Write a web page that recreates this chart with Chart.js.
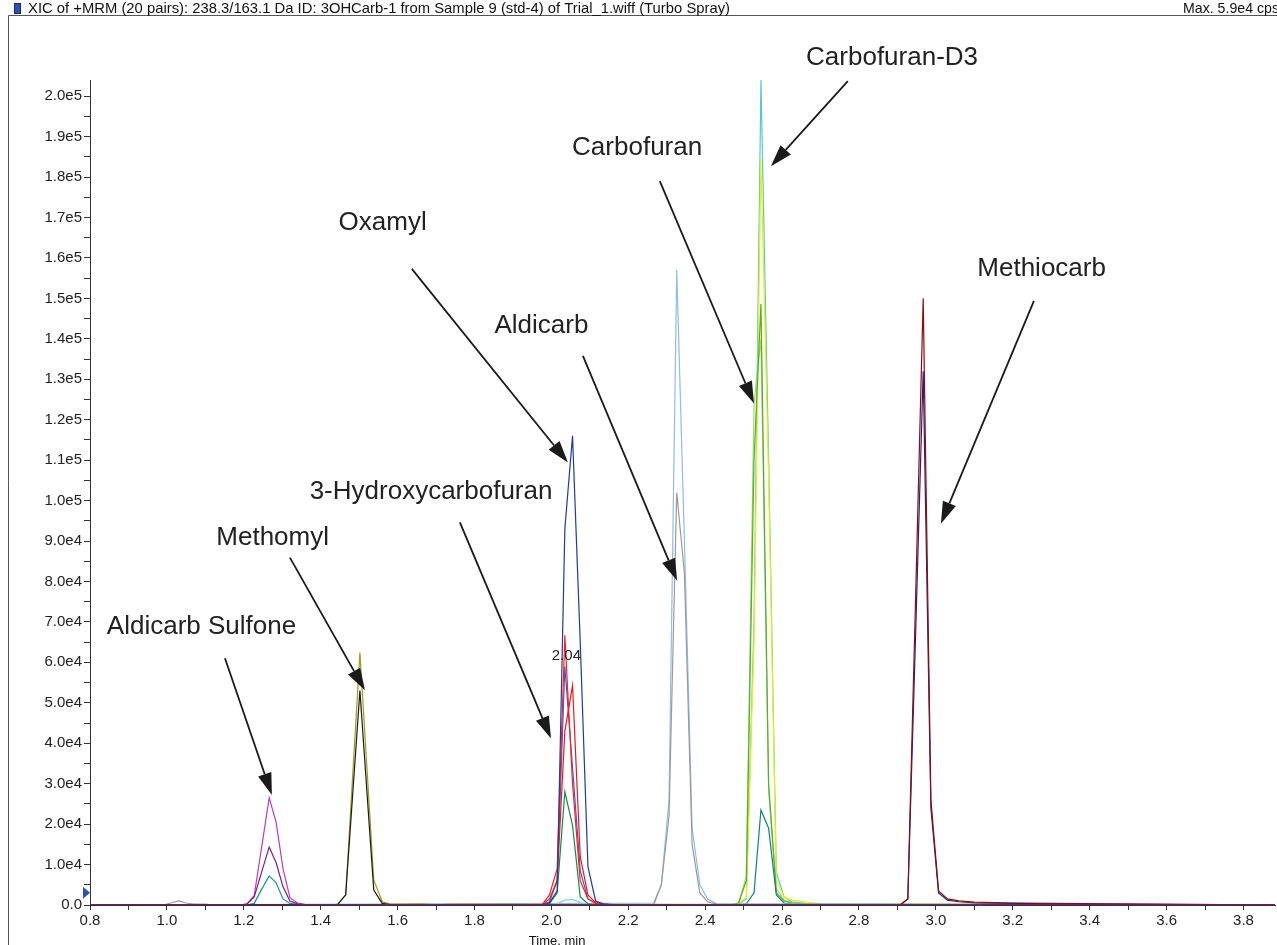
<!DOCTYPE html>
<html>
<head>
<meta charset="utf-8">
<title>XIC of +MRM</title>
<script src="https://cdn.jsdelivr.net/npm/chart.js@4.4.1/dist/chart.umd.min.js"></script>
<style>
  html, body { margin: 0; padding: 0; background: #fff; }
  #wrap { position: relative; width: 1277px; height: 945px; overflow: hidden; }
</style>
</head>
<body>
<div id="wrap"><canvas id="xic" width="1277" height="945"></canvas></div>
<script>
// --- header texts ---
const headerText = 'XIC of +MRM (20 pairs): 238.3/163.1 Da ID: 3OHCarb-1 from Sample 9 (std-4) of Trial_1.wiff (Turbo Spray)';
const maxText = 'Max. 5.9e4 cps';
const xTitle = 'Time, min';

// --- axes ---
const xMin = 0.8, xMax = 3.882;
const yMin = 0, yMax = 2.04e5;
const xTickLabels = ['0.8','1.0','1.2','1.4','1.6','1.8','2.0','2.2','2.4','2.6','2.8','3.0','3.2','3.4','3.6','3.8'];
const yTickLabels = ['0.0','1.0e4','2.0e4','3.0e4','4.0e4','5.0e4','6.0e4','7.0e4','8.0e4','9.0e4',
  '1.0e5','1.1e5','1.2e5','1.3e5','1.4e5','1.5e5','1.6e5','1.7e5','1.8e5','1.9e5','2.0e5'];
const xMajor = 0.2, yMajor = 1e4;   // labelled ticks; one minor tick between each pair

// --- traces (time in min, intensity in cps) ---
// Aldicarb Sulfone ~1.27
const tSulfone = [0.8, 1.19, 1.208, 1.227, 1.246, 1.266, 1.284, 1.302, 1.320, 1.340, 1.36, 3.882];
const sulfMagenta = [0, 0, 300, 2300, 14000, 26500, 20500, 9000, 1800, 500, 100, 0];
const sulfPurple  = [0, 0, 200, 2000, 8000, 14300, 10500, 4500, 1000, 300, 100, 0];
const sulfTeal    = [0, 0, 0, 400, 3800, 7200, 5500, 1500, 400, 100, 0, 0];

// Methomyl ~1.50
const tMethomyl = [0.8, 1.43, 1.444, 1.465, 1.502, 1.538, 1.560, 1.58, 1.62, 1.66, 1.70, 1.74, 3.882];
const methOlive = [0, 0, 200, 2500, 62400, 6200, 800, 300, 200, 300, 100, 250, 0];
const methBlack = [0, 0, 100, 2500, 53000, 3700, 400, 100, 50, 50, 0, 0, 0];

// Oxamyl / 3-Hydroxycarbofuran ~2.04
const tOxamyl = [0.8, 1.975, 1.995, 2.015, 2.035, 2.055, 2.075, 2.095, 2.115, 2.135, 2.16, 3.882];
const oxBlue    = [0, 0, 500, 3500, 93000, 116000, 65000, 9500, 1000, 300, 100, 0];
const oxMidBlue = [0, 0, 800, 6000, 59000, 34000, 8500, 1500, 500, 200, 0, 0];
const oxRed1    = [0, 0, 2500, 9000, 66700, 30000, 6000, 1500, 400, 100, 0, 0];
const oxRed2    = [0, 0, 1500, 6000, 43000, 54300, 12000, 2500, 600, 200, 0, 0];
const oxGreen   = [0, 0, 300, 3000, 28000, 19700, 2000, 300, 100, 0, 0, 0];
const oxCyan    = [0, 0, 0, 300, 1200, 1400, 600, 100, 0, 0, 0, 0];

// Aldicarb ~2.33 (gray trace also has the small bump at 1.03)
const tAldGray = [0.8, 0.99, 1.01, 1.03, 1.05, 1.07, 1.10, 1.12, 2.266, 2.286, 2.306, 2.326, 2.346, 2.366, 2.386, 2.406, 2.43, 3.882];
const aldGray  = [0, 0, 500, 1000, 500, 200, 200, 0, 0, 5000, 22000, 102000, 82000, 15000, 3000, 800, 200, 0];
const tAldBlue = [0.8, 2.266, 2.286, 2.306, 2.326, 2.346, 2.366, 2.386, 2.406, 2.43, 3.882];
const aldLightBlue = [0, 500, 5000, 26000, 157000, 90000, 19000, 5000, 1500, 300, 0];

// Carbofuran / Carbofuran-D3 ~2.545
const tCarbo = [0.8, 2.467, 2.487, 2.507, 2.527, 2.545, 2.565, 2.585, 2.605, 2.625, 2.66, 2.70, 3.882];
const cfCyan      = [0, 0, 200, 1500, 70000, 204000, 110000, 8000, 2000, 800, 400, 200, 0];
const cfYellow    = [0, 0, 300, 2000, 65000, 184500, 105000, 6000, 2000, 1200, 800, 300, 0];
const cfGreen     = [0, 0, 500, 6000, 110000, 148600, 30000, 3000, 1000, 500, 300, 200, 0];
const cfLightGreen= [0, 0, 600, 7000, 124000, 140000, 28000, 4000, 1200, 600, 300, 100, 0];
const cfTeal      = [0, 0, 0, 300, 3000, 23500, 19000, 2500, 500, 200, 0, 0, 0];

// Methiocarb ~2.97
const tMethio = [0.8, 2.907, 2.927, 2.947, 2.967, 2.987, 3.007, 3.03, 3.06, 3.10, 3.2, 3.3, 3.45, 3.6, 3.882];
const meRed  = [0, 0, 1500, 75000, 150000, 26000, 3500, 1500, 1000, 700, 500, 400, 300, 200, 0];
const meNavy = [0, 0, 1500, 66000, 132000, 24000, 3000, 1200, 800, 500, 400, 300, 200, 100, 0];

// --- annotations (data coordinates) ---
const annTexts = ['Carbofuran-D3', 'Carbofuran', 'Oxamyl', 'Methiocarb', 'Aldicarb', '3-Hydroxycarbofuran', 'Methomyl', 'Aldicarb Sulfone'];
const annX = [2.886, 2.223, 1.561, 3.275, 1.974, 1.687, 1.275, 1.090];
const annY = [209400, 187200, 168600, 157300, 143200, 102200, 90900, 68900];
const arrowFromX = [2.771, 2.282, 1.637, 3.255, 2.082, 1.762, 1.320, 1.151];
const arrowFromY = [203700, 179000, 157300, 149400, 135800, 94600, 85900, 61000];
const arrowToX   = [2.571, 2.527, 2.043, 3.013, 2.327, 1.999, 1.515, 1.273];
const arrowToY   = [182700, 124000, 109400, 94300, 80200, 41200, 53100, 27200];
const peakLabel = '2.04', peakLabelX = 2.039, peakLabelY = 61500;
const markerY = 3000;

const traces = [
  { t: tSulfone, v: sulfPurple, c: '#7a1f7e' },
  { t: tMethio, v: meRed, c: '#8c0c10' },
  { t: tMethio, v: meNavy, c: '#24247e' },
  { t: tOxamyl, v: oxBlue, c: '#1f3c9e' },
  { t: tOxamyl, v: oxRed1, c: '#ff1f1f' },
  { t: tOxamyl, v: oxRed2, c: '#e81a1a' },
  { t: tOxamyl, v: oxMidBlue, c: '#3a5ccc' },
  { t: tOxamyl, v: oxGreen, c: '#148a48' },
  { t: tOxamyl, v: oxCyan, c: '#78d4e4' },
  { t: tSulfone, v: sulfMagenta, c: '#c03cb4' },
  { t: tSulfone, v: sulfTeal, c: '#129498' },
  { t: tMethomyl, v: methBlack, c: '#1c1c1c' },
  { t: tMethomyl, v: methOlive, c: '#9c9c1c' },
  { t: tAldGray, v: aldGray, c: '#9a9a9a' },
  { t: tAldBlue, v: aldLightBlue, c: '#8ebde9' },
  { t: tCarbo, v: cfTeal, c: '#11807e' },
  { t: tCarbo, v: cfGreen, c: '#4fae2c' },
  { t: tCarbo, v: cfLightGreen, c: '#a6d46e' },
  { t: tCarbo, v: cfYellow, c: '#f2f000' },
  { t: tCarbo, v: cfCyan, c: '#52c8da' }
];

const datasets = traces.map((tr, i) => ({
  label: 'trace ' + (i + 1),
  data: tr.t.map((t, j) => ({ x: t, y: tr.v[j] })),
  borderColor: tr.c,
  borderWidth: 1.2,
  pointRadius: 0,
  fill: false,
  tension: 0
}));

// tick positions: every label position plus a minor tick halfway
function buildTicks(labels, start, major, limit) {
  const out = [];
  labels.forEach((lab, i) => {
    const v = start + i * major;
    out.push({ value: v, label: lab });
    if (v + major / 2 <= limit) out.push({ value: v + major / 2, label: '' });
  });
  return out;
}

function drawArrow(ctx, x1, y1, x2, y2) {
  const a = Math.atan2(y2 - y1, x2 - x1), L = 22, W = 7;
  const bx = x2 - L * Math.cos(a), by = y2 - L * Math.sin(a);
  ctx.beginPath(); ctx.moveTo(x1, y1); ctx.lineTo(bx, by); ctx.stroke();
  ctx.beginPath();
  ctx.moveTo(x2, y2);
  ctx.lineTo(bx + W * Math.sin(a), by - W * Math.cos(a));
  ctx.lineTo(bx - W * Math.sin(a), by + W * Math.cos(a));
  ctx.closePath(); ctx.fill();
}

// Draws header, frame, text labels and arrows on top of the chart
const decor = {
  id: 'decor',
  afterDraw(chart) {
    const { ctx, chartArea } = chart;
    const sx = chart.scales.x, sy = chart.scales.y;
    ctx.save();

    // frame lines
    ctx.strokeStyle = '#555'; ctx.lineWidth = 1;
    ctx.beginPath(); ctx.moveTo(8.5, 945); ctx.lineTo(8.5, 15.5); ctx.lineTo(1277, 15.5); ctx.stroke();

    // blue square icon
    ctx.fillStyle = '#2f50b0'; ctx.fillRect(14, 3, 7, 11);
    ctx.strokeStyle = '#1a2a66'; ctx.strokeRect(14.5, 3.5, 6, 10);

    // header
    ctx.fillStyle = '#111'; ctx.font = '15px Arial'; ctx.textBaseline = 'middle'; ctx.textAlign = 'left';
    ctx.fillText(headerText, 28, 8.5, 702);
    ctx.fillText(maxText, 1183, 8.5, 96);

    // x-axis title
    ctx.textAlign = 'center'; ctx.font = '13px Arial';
    ctx.fillText(xTitle, sx.getPixelForValue(2.015), chartArea.bottom + 36);

    // marker on y axis
    const my = sy.getPixelForValue(markerY);
    ctx.fillStyle = '#3050b0';
    ctx.beginPath(); ctx.moveTo(chartArea.left - 7, my - 6); ctx.lineTo(chartArea.left, my); ctx.lineTo(chartArea.left - 7, my + 6); ctx.closePath(); ctx.fill();

    // peak label
    ctx.fillStyle = '#222'; ctx.font = '15px Arial';
    ctx.fillText(peakLabel, sx.getPixelForValue(peakLabelX), sy.getPixelForValue(peakLabelY));

    // compound labels
    ctx.fillStyle = '#222'; ctx.font = '26px Arial';
    annTexts.forEach((txt, i) => {
      ctx.fillText(txt, sx.getPixelForValue(annX[i]), sy.getPixelForValue(annY[i]));
    });

    // arrows
    ctx.strokeStyle = '#1a1a1a'; ctx.fillStyle = '#1a1a1a'; ctx.lineWidth = 1.8;
    annTexts.forEach((txt, i) => {
      drawArrow(ctx,
        sx.getPixelForValue(arrowFromX[i]), sy.getPixelForValue(arrowFromY[i]),
        sx.getPixelForValue(arrowToX[i]), sy.getPixelForValue(arrowToY[i]));
    });
    ctx.restore();
  }
};

new Chart(document.getElementById('xic').getContext('2d'), {
  type: 'line',
  data: { datasets },
  options: {
    responsive: false,
    animation: false,
    layout: { padding: { top: 80, right: 2, left: 0, bottom: 0 } },
    plugins: { legend: { display: false }, tooltip: { enabled: false } },
    scales: {
      x: {
        type: 'linear', min: xMin, max: xMax,
        border: { display: true, color: '#333', width: 1 },
        grid: { drawOnChartArea: false, drawTicks: true, tickLength: 5, color: '#333' },
        ticks: {
          autoSkip: false, maxRotation: 0, padding: 2,
          color: '#222', font: { family: 'Arial', size: 15 }
        },
        afterBuildTicks: (s) => { s.ticks = buildTicks(xTickLabels, xMin, xMajor, xMax); },
        afterTickToLabelConversion: (s) => { s.ticks = buildTicks(xTickLabels, xMin, xMajor, xMax); },
        afterFit: (s) => { s.height = 40; }
      },
      y: {
        type: 'linear', min: yMin, max: yMax,
        border: { display: true, color: '#333', width: 1 },
        grid: { drawOnChartArea: false, drawTicks: true, tickLength: 6, color: '#333' },
        ticks: {
          autoSkip: false, padding: 2,
          color: '#222', font: { family: 'Arial', size: 15 }
        },
        afterBuildTicks: (s) => { s.ticks = buildTicks(yTickLabels, yMin, yMajor, yMax); },
        afterTickToLabelConversion: (s) => { s.ticks = buildTicks(yTickLabels, yMin, yMajor, yMax); },
        afterFit: (s) => { s.width = 90; }
      }
    }
  },
  plugins: [decor]
});
</script>
</body>
</html>
